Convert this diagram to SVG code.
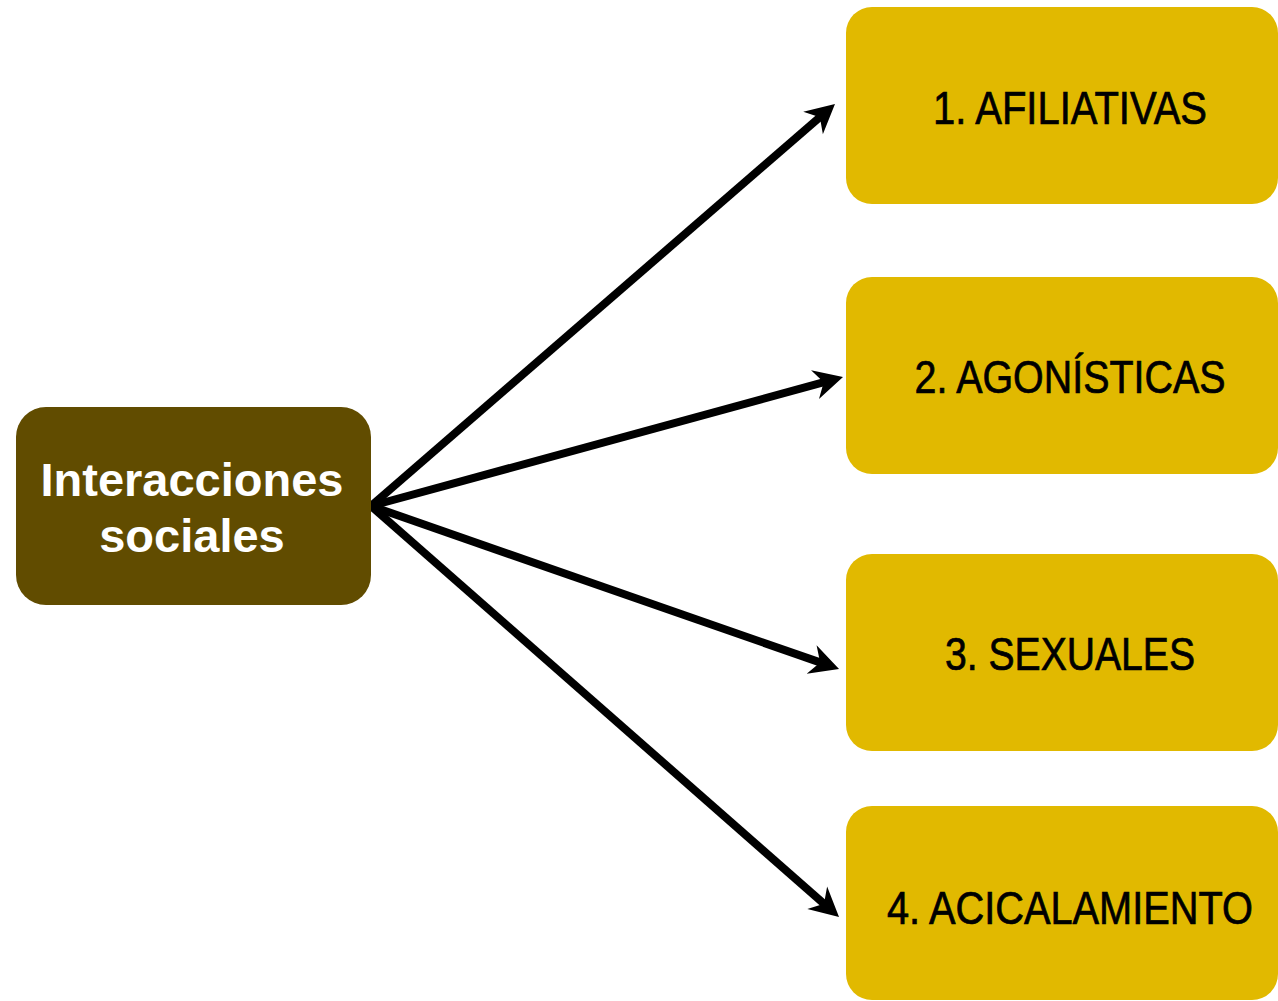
<svg xmlns="http://www.w3.org/2000/svg" width="1278" height="1001" viewBox="0 0 1278 1001">
<style>
.cat{fill:#E1B900;}
.cat-t{font-family:"Liberation Sans",Arial,sans-serif;font-size:46px;fill:#000;stroke:#000;stroke-width:0.7;text-anchor:middle;}
.main{fill:#614C00;}
.main-t{font-family:"Liberation Sans",Arial,sans-serif;font-size:47px;font-weight:bold;fill:#fff;text-anchor:middle;}
.conn{stroke:#000;stroke-width:8;fill:none;marker-end:url(#ah);}
</style>
<defs>
<marker id="ah" markerUnits="userSpaceOnUse" viewBox="-20 -20 40 40" markerWidth="40" markerHeight="40" refX="0" refY="0" orient="auto">
<path d="M14,0 L-15,-15 L-6,0 L-15,15 Z" fill="#000"/>
</marker>
</defs>
<rect width="1278" height="1001" fill="#fff"/>
<g id="connectors">
<line class="conn" x1="371" y1="506" x2="824.4" y2="113.2"/>
<line class="conn" x1="371" y1="506" x2="829.5" y2="380.7"/>
<line class="conn" x1="371" y1="506" x2="825.8" y2="664.4"/>
<line class="conn" x1="371" y1="506" x2="828.5" y2="907.7"/>
</g>
<g id="node-main">
<rect class="main" x="16" y="407" width="355" height="198" rx="30"/>
<text class="main-t" x="192" y="496">Interacciones</text>
<text class="main-t" x="192" y="552">sociales</text>
</g>
<g id="node-1">
<rect class="cat" x="846" y="7" width="432" height="197" rx="26"/>
<text class="cat-t" x="1070" y="124" textLength="274" lengthAdjust="spacingAndGlyphs">1. AFILIATIVAS</text>
</g>
<g id="node-2">
<rect class="cat" x="846" y="277" width="432" height="197" rx="26"/>
<text class="cat-t" x="1070" y="393" textLength="311" lengthAdjust="spacingAndGlyphs">2. AGONÍSTICAS</text>
</g>
<g id="node-3">
<rect class="cat" x="846" y="554" width="432" height="197" rx="26"/>
<text class="cat-t" x="1070" y="670" textLength="250" lengthAdjust="spacingAndGlyphs">3. SEXUALES</text>
</g>
<g id="node-4">
<rect class="cat" x="846" y="806" width="432" height="194" rx="26"/>
<text class="cat-t" x="1070" y="924" textLength="366" lengthAdjust="spacingAndGlyphs">4. ACICALAMIENTO</text>
</g>
</svg>
